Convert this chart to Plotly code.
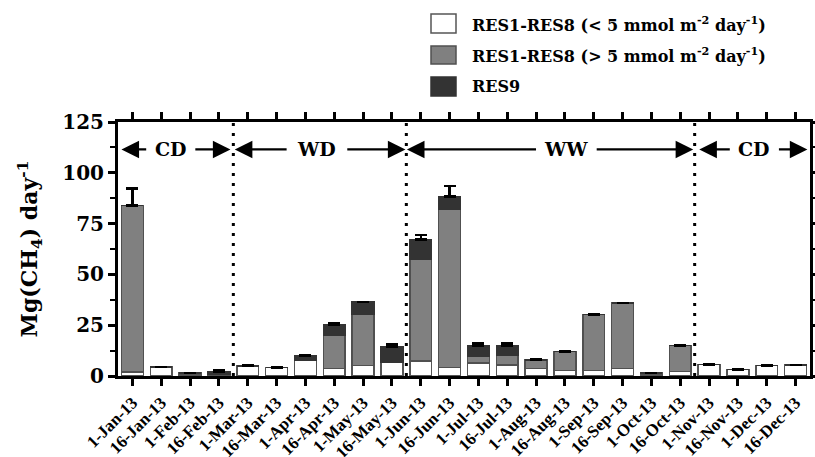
import plotly.graph_objects as go

dates = ['1-Jan-13', '16-Jan-13', '1-Feb-13', '16-Feb-13', '1-Mar-13', '16-Mar-13',
         '1-Apr-13', '16-Apr-13', '1-May-13', '16-May-13', '1-Jun-13', '16-Jun-13',
         '1-Jul-13', '16-Jul-13', '1-Aug-13', '16-Aug-13', '1-Sep-13', '16-Sep-13',
         '1-Oct-13', '16-Oct-13', '1-Nov-13', '16-Nov-13', '1-Dec-13', '16-Dec-13']
res_low = [2.0, 4.4, 0.4, 0.4, 5.0, 4.1, 7.7, 3.6, 5.2, 6.9, 7.4, 4.3,
           6.4, 5.4, 3.6, 2.8, 2.8, 3.6, 0.4, 2.1, 5.7, 3.3, 5.2, 5.4]
res_high = [82.0, 0, 1.1, 0.6, 0, 0, 0, 16.6, 25.1, 0, 50.3, 78.0,
            3.4, 4.9, 4.3, 9.3, 27.4, 32.3, 1.2, 13.0, 0, 0, 0, 0]
res9 = [0, 0, 0, 1.1, 0, 0, 2.5, 5.2, 6.1, 7.7, 9.5, 6.1,
        5.1, 4.6, 0, 0, 0, 0, 0, 0, 0, 0, 0, 0]
err_up = [8.3, None, None, 0.5, 0.4, 0.3, None, 0.8, None, 1.0, 2.1, 5.0,
          1.2, 1.0, 0.3, None, 0.3, None, None, None, None, None, None, None]

# periods: (label, start boundary, end boundary, label position)
periods = [('CD', -0.38, 3.40, 1.33), ('WD', 3.55, 9.47, 6.4),
           ('WW', 9.52, 19.45, 15.05), ('CD', 19.66, 23.41, 21.57)]
dividers = [3.5, 9.5, 19.5]

legend_names = ['RES1-RES8 (< 5 mmol m<sup>-2</sup> day<sup>-1</sup>)',
                'RES1-RES8 (> 5 mmol m<sup>-2</sup> day<sup>-1</sup>)',
                'RES9']
colors = ['#ffffff', '#808080', '#333333']
edges = ['#555555', '#505050', '#333333']

FONT = 'DejaVu Serif'
TICKFONT = 'Liberation Serif'
x = list(range(len(dates)))

fig = go.Figure()
series = [res_low, res_high, res9]
for i, vals in enumerate(series):
    kw = {}
    if i == 2:
        kw['error_y'] = dict(type='data', symmetric=False, array=err_up,
                             arrayminus=[0] * len(err_up), color='black',
                             thickness=2.5, width=6)
    fig.add_trace(go.Bar(x=x, y=vals, name=legend_names[i], width=0.76,
                         marker=dict(color=colors[i], line=dict(color=edges[i], width=1.5)),
                         showlegend=False, **kw))

W, H = 815, 457
ml, mr, mt, mb = 118, 5, 122, 81
pw, ph = W - ml - mr, H - mt - mb

def px2paper(px, py):
    return (px - ml) / pw, (H - mb - py) / ph

shapes = []
for d in dividers:
    shapes.append(dict(type='line', xref='x', yref='paper', x0=d, x1=d, y0=0, y1=1,
                       line=dict(color='black', width=3, dash='3px,7px')))

annotations = []
ARROW_Y = 111.5
for label, a, b, c in periods:
    annotations.append(dict(x=c, y=ARROW_Y, xref='x', yref='y', text='<b>%s</b>' % label,
                            showarrow=False, font=dict(family=FONT, size=19, color='black')))
    half = 0.85 if label in ('WD', 'WW') else 0.65
    for tip, start in ((a, c - half - 0.15), (b, c + half + 0.15)):
        annotations.append(dict(x=tip, y=ARROW_Y, ax=start, ay=ARROW_Y, xref='x', yref='y',
                                axref='x', ayref='y', text='', showarrow=True,
                                arrowhead=2, arrowsize=1.6, arrowwidth=2.2, arrowcolor='black'))

# custom legend
leg_boxes = [(431, 14, 456, 33), (431, 46, 456, 64), (431, 77, 456, 96)]
for i, (x0, y0, x1, y1) in enumerate(leg_boxes):
    px0, py0 = px2paper(x0, y1)
    px1, py1 = px2paper(x1, y0)
    shapes.append(dict(type='rect', xref='paper', yref='paper', x0=px0, x1=px1, y0=py0, y1=py1,
                       fillcolor=colors[i], line=dict(color=edges[i], width=1.5)))
    tx, ty = px2paper(470, (y0 + y1) / 2)
    annotations.append(dict(x=tx, y=ty, xref='paper', yref='paper', text='<b>%s</b>' % legend_names[i],
                            showarrow=False, xanchor='left', yanchor='middle',
                            font=dict(family=FONT, size=16, color='black')))

fig.update_layout(
    width=W, height=H, barmode='stack', bargap=0.24,
    margin=dict(l=ml, r=mr, t=mt, b=mb, autoexpand=False),
    plot_bgcolor='white', paper_bgcolor='white',
    font=dict(family=FONT, color='black'),
    shapes=shapes, annotations=annotations,
)
fig.update_xaxes(range=[-0.5, 23.5], tickmode='array', tickvals=x, ticktext=dates,
                 tickangle=-45, tickfont=dict(family=TICKFONT, size=17, weight='bold'),
                 showline=True, linecolor='black', linewidth=3, mirror='ticks',
                 ticks='outside', ticklen=7, tickwidth=2.5, tickcolor='black',
                 showgrid=False, zeroline=False)
fig.update_yaxes(range=[0, 125], tickvals=[0, 25, 50, 75, 100, 125],
                 tickfont=dict(family=FONT, size=20, weight='bold'),
                 showline=True, linecolor='black', linewidth=3, mirror='ticks',
                 ticks='outside', ticklen=7, tickwidth=2.5, tickcolor='black',
                 minor=dict(dtick=12.5, tick0=0, ticks='outside', ticklen=5, tickwidth=2, tickcolor='black', showgrid=False),
                 showgrid=False, zeroline=False,
                 title=dict(text='<b>Mg(CH<sub>4</sub>) day<sup>-1</sup></b>', standoff=19,
                            font=dict(family=FONT, size=22, color='black')))

fig.write_html('out.html', config={'displayModeBar': False},
               post_script="document.body.style.margin='0';document.body.style.overflow='hidden';")
